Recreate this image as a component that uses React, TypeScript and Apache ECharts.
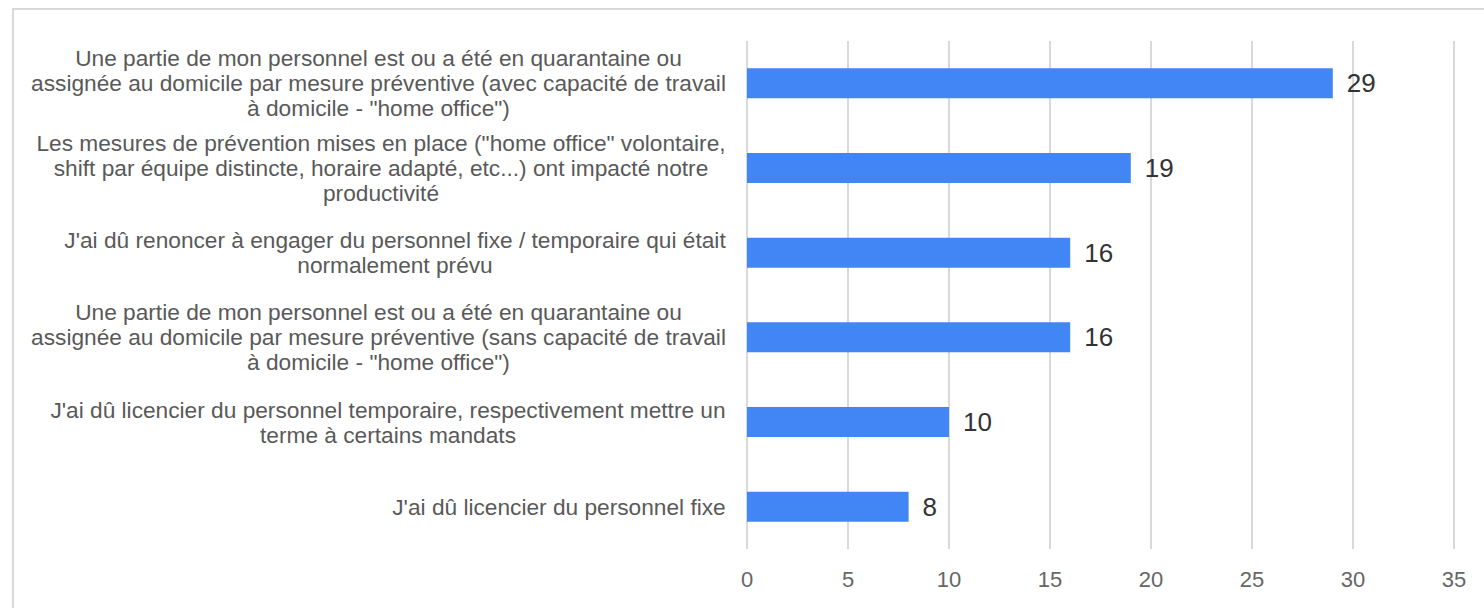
import React, { useEffect, useRef } from "react";
import * as echarts from "echarts";

const categories: string[] = [
  "Une partie de mon personnel est ou a été en quarantaine ou\nassignée au domicile par mesure préventive (avec capacité de travail\nà domicile - \"home office\")",
  "Les mesures de prévention mises en place (\"home office\" volontaire,\nshift par équipe distincte, horaire adapté, etc...) ont impacté notre\nproductivité",
  "J'ai dû renoncer à engager du personnel fixe / temporaire qui était\nnormalement prévu",
  "Une partie de mon personnel est ou a été en quarantaine ou\nassignée au domicile par mesure préventive (sans capacité de travail\nà domicile - \"home office\")",
  "J'ai dû licencier du personnel temporaire, respectivement mettre un\nterme à certains mandats",
  "J'ai dû licencier du personnel fixe",
];
const values: number[] = [29, 19, 16, 16, 10, 8];
const xTicks = { min: 0, max: 35, interval: 5 };

const FONT = '"Liberation Sans", Arial, sans-serif';
const FS = 22.7;

export default function App() {
  const ref = useRef<HTMLDivElement>(null);
  useEffect(() => {
    if (!ref.current) return;
    const chart = echarts.init(ref.current, undefined, { renderer: "svg" });
    const canvas = document.createElement("canvas");
    const ctx = canvas.getContext("2d")!;
    ctx.font = `${FS}px ${FONT}`;
    const rich: Record<string, any> = {};
    categories.forEach((c, i) => {
      const w = Math.max(...c.split("\n").map((l) => ctx.measureText(l).width));
      rich["r" + i] = {
        width: Math.ceil(w) + 2,
        align: "center",
        fontSize: FS,
        fontFamily: FONT,
        color: "#595959",
        lineHeight: 25,
      };
    });
    chart.setOption({
      animation: false,
      backgroundColor: "#fff",
      graphic: [
        {
          type: "rect",
          shape: { x: 13, y: 9, width: 1600, height: 800 },
          style: { fill: "none", stroke: "#d9d9d9", lineWidth: 2 },
          silent: true,
        },
      ],
      grid: { left: 747, right: 30, top: 41, bottom: 59, containLabel: false },
      xAxis: {
        type: "value",
        min: xTicks.min,
        max: xTicks.max,
        interval: xTicks.interval,
        axisLine: { show: false },
        axisTick: { show: false },
        splitLine: { show: true, lineStyle: { color: "#d9d9d9", width: 2 } },
        axisLabel: { margin: 19, fontSize: 22, fontFamily: FONT, color: "#666" },
      },
      yAxis: {
        type: "category",
        inverse: true,
        data: categories,
        axisLine: { show: false },
        axisTick: { show: false },
        axisLabel: {
          margin: 20,
          align: "right",
          formatter: (v: string) => {
            const i = categories.indexOf(v);
            return v
              .split("\n")
              .map((l) => `{r${i}|${l}}`)
              .join("\n");
          },
          rich,
        },
      },
      series: [
        {
          type: "bar",
          data: values,
          barWidth: 30,
          itemStyle: { color: "#4285F4" },
          label: {
            show: true,
            position: "right",
            distance: 14,
            fontSize: 26,
            fontFamily: FONT,
            color: "#333",
          },
        },
      ],
    });
    return () => chart.dispose();
  }, []);
  return (
    <div
      ref={ref}
      style={{ position: "absolute", left: 0, top: 0, width: 1484, height: 608 }}
    />
  );
}
